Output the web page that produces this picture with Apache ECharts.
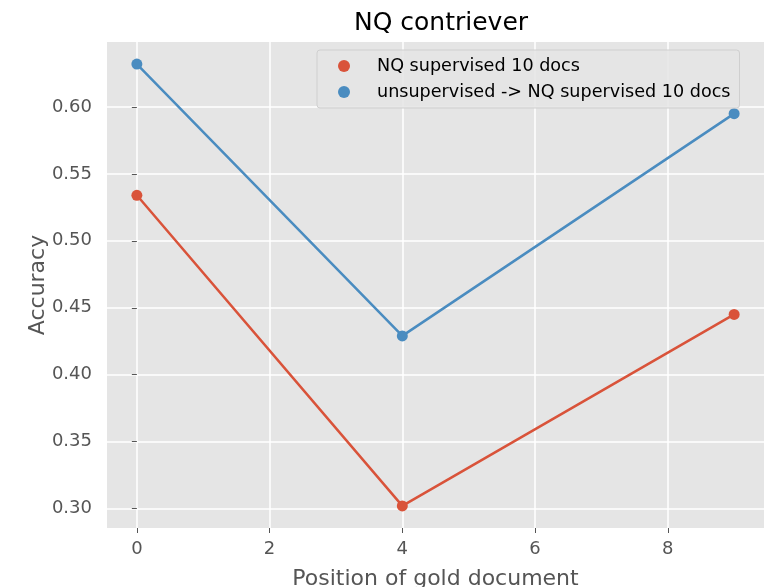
<!DOCTYPE html>
<html><head><meta charset="utf-8">
<script src="https://cdn.jsdelivr.net/npm/echarts@6/dist/echarts.min.js"></script>
<style>html,body{margin:0;padding:0;background:#fff}#c{width:764px;height:587px}</style>
</head><body><div id="c"></div>
<script>
const positions = [0, 4, 9];
const supervised = [0.534, 0.302, 0.445];
const unsupToSupervised = [0.632, 0.429, 0.595];
const xTicks = [0, 2, 4, 6, 8];
const yTicks = [0.30, 0.35, 0.40, 0.45, 0.50, 0.55, 0.60];
const seriesNames = ['NQ supervised 10 docs', 'unsupervised -> NQ supervised 10 docs'];

const font = 'DejaVu Sans';
const chart = echarts.init(document.getElementById('c'));
chart.setOption({
  backgroundColor: '#fff',
  animation: false,
  title: { text: 'NQ contriever', left: 436, top: 6, textAlign: 'center',
    textStyle: { fontFamily: font, fontSize: 25, fontWeight: 'normal', color: '#000' } },
  legend: {
    data: seriesNames, orient: 'vertical', left: 317, top: 50,
    itemWidth: 12, itemHeight: 12, itemGap: 8, icon: 'circle',
    padding: [7, 9, 7, 21],
    backgroundColor: 'rgba(229,229,229,0.85)', borderColor: '#cfcfcf', borderWidth: 1, borderRadius: 3,
    textStyle: { fontFamily: font, fontSize: 17.6, color: '#000', padding: [0, 0, 0, 22] }
  },
  grid: { left: 107, right: 0, top: 42, bottom: 59, show: true, backgroundColor: '#E5E5E5', borderWidth: 0,
    containLabel: false, outerBoundsMode: 'none' },
  xAxis: {
    type: 'value', min: -0.45, max: 9.45,
    name: 'Position of gold document', nameLocation: 'middle', nameGap: 40, nameMoveOverlap: false,
    nameTextStyle: { fontFamily: font, fontSize: 22, color: '#555', verticalAlign: 'top' },
    axisLine: { show: false },
    axisTick: { show: true, length: 5, lineStyle: { color: '#555' }, customValues: xTicks },
    axisLabel: { fontFamily: font, fontSize: 18, color: '#555', margin: 12, customValues: xTicks, formatter: v => String(v) },
    splitLine: { show: true, lineStyle: { color: '#fff', width: 1.5 }, customValues: xTicks }
  },
  yAxis: {
    type: 'value', min: 0.2855, max: 0.6485,
    name: 'Accuracy', nameLocation: 'middle', nameGap: 58, nameRotate: 90, nameMoveOverlap: false,
    nameTextStyle: { fontFamily: font, fontSize: 22, color: '#555' },
    axisLine: { show: false },
    axisTick: { show: true, length: 5, lineStyle: { color: '#555' }, customValues: yTicks },
    axisLabel: { fontFamily: font, fontSize: 18, color: '#555', margin: 15, customValues: yTicks, formatter: v => v.toFixed(2) },
    splitLine: { show: true, lineStyle: { color: '#fff', width: 1.5 }, customValues: yTicks }
  },
  series: [
    { name: seriesNames[0], type: 'line', data: positions.map((p, i) => [p, supervised[i]]),
      color: '#d9533a', symbol: 'circle', symbolSize: 11, lineStyle: { width: 2.5 } },
    { name: seriesNames[1], type: 'line', data: positions.map((p, i) => [p, unsupToSupervised[i]]),
      color: '#4a8cc0', symbol: 'circle', symbolSize: 11, lineStyle: { width: 2.5 } }
  ]
});
</script></body></html>
